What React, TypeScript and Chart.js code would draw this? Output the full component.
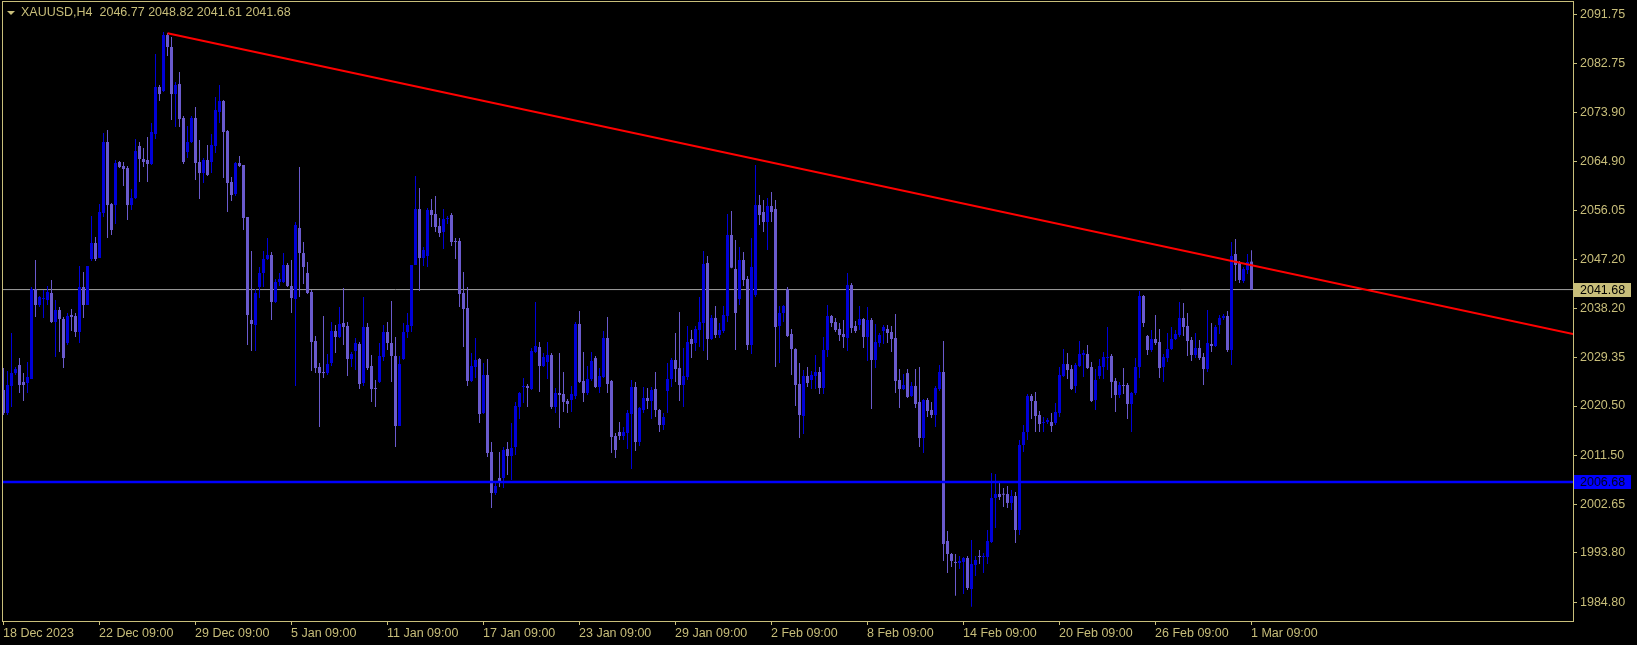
import React, { useEffect, useRef } from 'react';
import { Chart, registerables } from 'chart.js';

Chart.register(...registerables);

const symbolName = 'XAUUSD,H4';

const open = [
2023.42,2019.23,2024.15,2026.50,2027.96,2024.88,2024.69,2025.42,2041.78,2038.88,
2039.97,2039.79,2041.06,2035.79,2037.97,2036.33,2031.97,2037.06,2036.88,2033.97,
2042.15,2038.88,2047.24,2050.15,2047.42,2055.61,2068.53,2057.24,2057.06,2064.89,
2064.16,2063.79,2057.06,2058.33,2067.80,2065.43,2065.25,2064.52,2069.98,2078.53,
2077.80,2087.98,2085.80,2077.25,2079.07,2072.89,2066.71,2068.53,2072.89,2064.89,
2062.88,2065.25,2064.89,2067.80,2073.98,2075.98,2070.53,2061.25,2059.07,2064.70,
2064.34,2054.88,2036.15,2035.24,2042.15,2044.70,2047.24,2047.97,2039.42,2043.06,
2043.06,2046.15,2042.33,2039.97,2052.88,2048.33,2044.70,2041.24,2032.33,2027.60,
2026.69,2026.50,2028.33,2034.15,2033.06,2035.60,2035.06,2029.05,2030.51,2031.78,
2024.69,2034.88,2027.78,2023.78,2024.88,2029.42,2033.97,2031.97,2029.60,2016.87,
2029.05,2033.97,2035.06,2046.15,2056.34,2047.42,2047.79,2056.16,2055.43,2053.24,
2052.15,2054.52,2055.25,2050.52,2050.52,2041.06,2038.33,2025.06,2027.60,2029.05,
2019.23,2026.14,2012.14,2004.68,2007.41,2007.41,2012.69,2011.41,2013.05,2020.33,
2023.96,2024.15,2023.60,2030.33,2031.24,2027.78,2028.51,2029.78,2020.33,2022.87,
2022.69,2021.42,2021.60,2022.33,2035.42,2025.06,2022.87,2025.42,2029.23,2023.96,
2025.78,2032.88,2025.06,2015.05,2015.78,2015.05,2015.60,2019.05,2023.96,2013.96,
2019.78,2021.96,2021.42,2023.60,2019.78,2017.05,2023.24,2025.42,2028.87,2027.41,
2024.33,2025.78,2032.69,2031.97,2034.33,2035.60,2046.52,2032.69,2036.52,2033.42,
2034.15,2036.88,2051.61,2045.43,2039.97,2047.06,2043.61,2031.60,2040.70,2057.06,
2055.79,2053.97,2056.88,2056.34,2035.06,2037.42,2041.78,2033.60,2030.87,2024.51,
2018.69,2025.96,2025.24,2025.96,2026.69,2023.78,2030.69,2036.88,2035.79,2034.51,
2033.60,2032.88,2042.51,2035.06,2035.24,2036.33,2033.06,2036.15,2028.87,2031.97,
2034.15,2034.51,2033.97,2032.88,2025.24,2023.60,2026.50,2022.33,2024.15,2021.24,
2014.69,2021.60,2019.78,2018.87,2023.60,2026.69,1995.95,1993.59,1992.14,1991.95,
1992.14,1992.86,1987.22,1991.59,1993.23,1993.04,1993.04,1995.77,2003.77,2004.50,
2004.50,2004.50,2002.87,2004.14,1997.95,2013.41,2015.78,2022.33,2021.42,2018.87,
2017.42,2017.60,2017.60,2017.42,2019.23,2025.96,2028.14,2027.23,2024.15,2027.78,
2029.78,2029.96,2027.60,2021.60,2025.96,2027.60,2029.23,2029.60,2025.06,2022.51,
2024.33,2024.33,2020.87,2022.87,2027.60,2040.52,2033.24,2030.69,2032.69,2032.15,
2027.60,2029.23,2030.87,2032.69,2033.42,2036.52,2035.06,2032.51,2029.78,2031.06,
2029.42,2027.23,2031.78,2031.42,2035.24,2036.52,2036.88,2030.69,2048.15,2046.52,
2043.24,2045.24,2046.77
];

const high = [
2027.41,2026.87,2033.78,2027.60,2029.23,2026.50,2028.51,2042.15,2047.06,2040.52,
2041.60,2042.33,2043.42,2039.79,2038.51,2036.70,2037.42,2038.15,2037.42,2045.97,
2044.88,2045.97,2055.07,2051.24,2057.24,2070.16,2070.71,2057.43,2065.25,2065.07,
2064.89,2064.16,2059.97,2069.07,2068.53,2067.43,2069.43,2071.98,2084.53,2078.89,
2088.53,2088.35,2087.62,2079.44,2081.26,2073.25,2071.43,2073.25,2074.89,2068.89,
2065.61,2067.98,2069.98,2076.71,2078.89,2076.16,2070.71,2062.16,2064.89,2065.98,
2064.34,2054.88,2048.70,2041.78,2045.79,2048.70,2051.06,2048.52,2043.61,2044.70,
2048.33,2046.52,2047.06,2053.97,2063.97,2050.34,2046.70,2041.60,2033.24,2028.33,
2036.88,2029.96,2035.79,2035.24,2038.51,2041.97,2035.79,2030.33,2032.88,2032.15,
2040.33,2035.60,2029.78,2025.24,2031.97,2035.24,2035.79,2039.60,2033.06,2029.60,
2035.60,2037.42,2046.15,2062.34,2060.16,2049.43,2056.52,2058.15,2058.70,2054.70,
2056.34,2055.07,2055.61,2051.06,2051.06,2044.88,2042.15,2030.15,2032.88,2029.23,
2028.33,2029.05,2013.96,2006.50,2012.14,2013.05,2013.96,2017.42,2021.24,2023.05,
2025.60,2024.51,2031.06,2039.42,2032.15,2030.15,2032.15,2030.15,2023.78,2030.15,
2026.69,2021.78,2024.15,2035.79,2037.79,2030.33,2027.78,2030.33,2029.60,2027.41,
2034.15,2036.70,2025.24,2015.60,2017.60,2016.69,2019.78,2025.24,2024.88,2020.33,
2023.96,2023.78,2023.96,2026.69,2019.96,2019.23,2028.33,2029.23,2033.78,2037.60,
2031.06,2035.06,2034.33,2035.06,2040.33,2048.70,2047.79,2037.06,2038.70,2035.60,
2038.70,2055.43,2055.97,2050.70,2049.43,2048.52,2044.15,2051.06,2064.34,2058.88,
2057.97,2058.33,2059.43,2057.97,2038.70,2038.88,2042.15,2034.51,2031.00,2028.33,
2027.05,2027.60,2026.87,2029.78,2027.60,2033.06,2038.88,2037.06,2036.52,2035.60,
2036.15,2044.70,2042.88,2035.97,2038.70,2036.52,2038.51,2036.52,2035.42,2033.78,
2035.24,2035.24,2035.06,2037.24,2027.23,2026.33,2027.23,2024.88,2027.23,2027.60,
2021.78,2021.96,2021.24,2024.15,2027.96,2032.33,1997.77,1993.77,1993.59,1993.23,
1993.04,1993.23,1996.14,1993.23,1994.32,1993.77,1997.95,2008.32,2008.14,2006.50,
2005.59,2005.96,2005.23,2004.87,2014.32,2017.05,2022.69,2022.69,2023.05,2019.60,
2018.51,2018.32,2019.23,2021.05,2027.60,2030.87,2030.15,2027.96,2028.33,2032.33,
2030.69,2031.60,2028.51,2027.23,2029.05,2030.33,2034.88,2029.96,2025.60,2024.88,
2027.41,2024.69,2023.05,2029.23,2041.42,2040.70,2033.42,2034.33,2037.06,2034.51,
2029.96,2033.78,2034.88,2034.33,2039.42,2039.24,2037.42,2033.06,2033.78,2032.51,
2030.15,2037.97,2035.60,2035.24,2037.06,2037.24,2037.79,2050.34,2050.88,2046.88,
2045.79,2048.15,2048.82
];

const low = [
2018.87,2018.87,2020.33,2026.14,2022.87,2021.42,2022.87,2025.42,2036.70,2038.51,
2036.52,2038.88,2035.60,2029.42,2030.33,2027.41,2031.60,2034.15,2033.06,2031.97,
2036.52,2038.88,2046.88,2046.88,2047.42,2054.88,2051.06,2051.61,2053.61,2063.79,
2060.52,2054.34,2056.16,2058.15,2061.25,2063.97,2061.25,2064.34,2069.07,2075.98,
2077.62,2084.17,2072.52,2071.25,2071.25,2064.52,2065.61,2068.34,2061.61,2058.15,
2061.07,2062.34,2062.88,2066.52,2071.98,2061.98,2055.79,2057.79,2058.70,2063.97,
2052.52,2031.60,2030.51,2030.51,2040.15,2042.15,2047.06,2036.15,2039.24,2042.33,
2042.88,2042.15,2037.42,2024.15,2040.33,2042.70,2040.88,2026.87,2026.50,2016.69,
2025.60,2026.14,2027.78,2030.15,2032.88,2031.60,2025.96,2027.60,2027.05,2023.60,
2024.15,2027.05,2021.24,2020.33,2024.69,2028.69,2030.69,2024.88,2013.05,2016.87,
2028.87,2032.88,2033.97,2046.15,2041.42,2045.97,2045.79,2053.06,2052.15,2051.24,
2049.06,2053.61,2049.61,2047.24,2038.51,2031.24,2024.15,2024.88,2025.60,2017.41,
2019.05,2011.23,2001.95,2004.32,2005.78,2005.59,2007.96,2007.05,2011.59,2018.14,
2021.05,2020.33,2023.42,2030.15,2023.05,2027.60,2025.42,2019.96,2019.23,2016.50,
2019.42,2019.23,2019.42,2021.78,2024.69,2021.24,2022.51,2025.06,2023.78,2022.87,
2025.60,2022.87,2011.96,2011.05,2014.32,2014.32,2012.69,2009.05,2012.32,2013.23,
2019.23,2019.96,2018.14,2018.51,2015.78,2016.14,2019.23,2023.96,2024.88,2021.42,
2020.33,2025.24,2029.23,2030.51,2031.24,2030.51,2028.87,2032.51,2032.88,2032.88,
2033.78,2035.79,2045.55,2030.69,2038.88,2042.33,2030.69,2029.96,2040.33,2053.43,
2052.15,2048.88,2053.97,2027.60,2028.33,2035.79,2033.06,2026.14,2020.51,2014.69,
2015.41,2023.96,2023.60,2023.60,2022.69,2022.69,2029.42,2034.88,2033.97,2032.33,
2031.06,2030.51,2033.78,2033.78,2034.33,2031.06,2028.69,2019.96,2027.41,2031.24,
2031.78,2031.97,2030.33,2022.87,2020.15,2023.42,2021.96,2022.14,2020.15,2013.05,
2011.96,2018.51,2018.32,2016.69,2023.24,1992.32,1990.13,1991.23,1986.00,1990.86,
1986.30,1987.04,1984.00,1989.59,1991.77,1990.13,1991.77,1995.59,1998.32,2003.41,
2002.14,2001.95,2001.59,1995.59,1997.04,2012.14,2014.32,2018.14,2015.78,2015.78,
2015.78,2017.23,2015.78,2017.05,2018.51,2025.78,2025.42,2023.42,2022.87,2027.60,
2025.78,2027.23,2021.24,2019.78,2025.42,2025.42,2027.05,2021.96,2019.42,2021.96,
2022.69,2018.14,2015.78,2022.51,2025.60,2034.88,2029.78,2030.33,2031.60,2025.60,
2024.88,2028.51,2030.69,2032.51,2033.06,2033.24,2029.60,2028.69,2029.23,2028.87,
2024.33,2026.69,2030.33,2031.24,2033.60,2036.15,2030.33,2027.96,2043.24,2042.88,
2042.88,2044.52,2041.61
];

const close = [
2019.23,2024.33,2026.50,2027.23,2024.33,2024.33,2025.78,2041.78,2038.88,2040.33,
2040.15,2041.24,2035.79,2037.97,2036.33,2029.23,2036.88,2036.70,2033.97,2042.15,
2038.88,2045.97,2050.15,2047.24,2055.79,2068.53,2057.06,2052.52,2064.70,2063.97,
2063.61,2057.06,2058.33,2066.89,2065.43,2064.89,2064.52,2070.34,2078.53,2077.25,
2087.98,2085.80,2077.25,2078.89,2072.70,2064.89,2068.53,2072.89,2064.70,2062.88,
2065.25,2062.52,2067.98,2074.34,2075.98,2070.34,2061.07,2058.88,2064.70,2064.16,
2054.70,2037.06,2035.42,2041.06,2044.70,2047.24,2047.97,2039.42,2043.06,2043.61,
2046.15,2042.33,2040.15,2053.43,2048.33,2045.79,2041.06,2032.15,2027.41,2026.50,
2026.50,2028.14,2034.15,2033.06,2035.42,2034.88,2029.05,2029.96,2031.97,2024.51,
2034.88,2027.41,2023.60,2023.60,2029.60,2033.97,2031.97,2029.60,2016.87,2028.14,
2033.97,2035.24,2046.15,2056.34,2047.42,2048.88,2056.16,2055.25,2053.06,2051.97,
2054.52,2054.70,2050.34,2050.34,2040.88,2038.15,2025.06,2027.78,2028.87,2019.05,
2026.14,2011.96,2004.68,2005.96,2006.68,2012.50,2011.41,2012.87,2020.51,2022.87,
2024.15,2023.78,2030.51,2031.42,2027.78,2029.42,2029.78,2020.33,2022.87,2022.51,
2021.24,2020.87,2022.69,2035.42,2024.88,2022.87,2025.42,2028.69,2023.96,2025.96,
2032.88,2024.51,2014.87,2012.50,2015.05,2015.78,2019.23,2023.96,2013.96,2020.15,
2021.96,2021.42,2023.42,2019.78,2017.05,2018.51,2025.42,2028.87,2027.23,2024.33,
2025.96,2032.15,2031.78,2034.51,2035.79,2046.33,2032.69,2036.52,2033.42,2034.33,
2037.06,2051.61,2045.66,2037.42,2047.06,2043.42,2031.60,2045.79,2057.06,2055.25,
2053.97,2056.88,2055.79,2034.88,2037.42,2038.70,2033.24,2030.87,2024.33,2018.87,
2025.96,2024.69,2026.14,2026.69,2023.78,2030.69,2036.88,2035.60,2034.33,2033.42,
2033.06,2042.51,2034.69,2034.15,2036.33,2033.06,2036.15,2028.87,2032.15,2033.42,
2034.88,2033.78,2032.69,2025.06,2023.60,2024.33,2022.14,2024.15,2020.87,2014.69,
2021.60,2019.60,2018.87,2023.78,2026.69,1995.41,1993.59,1992.32,1991.95,1992.32,
1992.86,1987.40,1991.77,1992.50,1993.04,1993.23,1995.95,2003.77,2004.50,2003.95,
2004.41,2002.87,2004.14,1997.95,2013.41,2015.78,2022.33,2021.42,2018.69,2017.23,
2017.60,2017.96,2016.87,2019.42,2026.14,2028.14,2027.05,2023.60,2027.96,2029.96,
2030.15,2027.41,2021.42,2025.24,2027.78,2029.42,2029.42,2024.88,2022.51,2024.33,
2024.15,2020.87,2022.87,2027.60,2040.52,2035.60,2030.69,2032.69,2031.97,2027.41,
2029.42,2030.87,2032.69,2033.60,2036.52,2034.88,2032.33,2029.78,2031.06,2029.23,
2027.23,2031.97,2031.42,2034.88,2036.52,2036.88,2030.69,2047.79,2046.15,2043.42,
2045.43,2046.70,2041.68
];

const yTickValues = [2091.75, 2082.75, 2073.90, 2064.90, 2056.05, 2047.20, 2038.20, 2029.35, 2020.50, 2011.50, 2002.65, 1993.80, 1984.80];
const xTickLabels = ['18 Dec 2023', '22 Dec 09:00', '29 Dec 09:00', '5 Jan 09:00', '11 Jan 09:00', '17 Jan 09:00', '23 Jan 09:00', '29 Jan 09:00', '2 Feb 09:00', '8 Feb 09:00', '14 Feb 09:00', '20 Feb 09:00', '26 Feb 09:00', '1 Mar 09:00'];
const xTickBars = [-0.125, 23.875, 47.875, 71.875, 95.875, 119.875, 143.875, 167.875, 191.875, 215.875, 239.875, 263.875, 287.875, 311.875];

const bidPrice = 2041.68;
const supportPrice = 2006.68;
const trendBars = [41, 392.375];
const trendPrices = [2088.3, 2033.6];

const X_MIN = -0.125;
const X_MAX = 392.375;
const Y_MIN = 1981.40;
const Y_MAX = 2093.99;

const KHAKI = '#C8BE7A';
const BULL = '#0000D8';
const BEAR = '#6A5ACD';
const FONT = "'Liberation Sans', Arial, sans-serif";

export default function App() {
  const ref = useRef<HTMLCanvasElement | null>(null);

  useEffect(() => {
    document.body.style.margin = '0';
    document.body.style.background = '#000';
    const canvas = ref.current;
    if (!canvas) return;

    const bodies = open.map((o, i) => {
      const c = close[i];
      let lo = Math.min(o, c);
      let hi = Math.max(o, c);
      if (hi - lo < 0.18) {
        const m = (hi + lo) / 2;
        lo = m - 0.09;
        hi = m + 0.09;
      }
      return { x: i, y: [lo, hi] };
    });
    const wicks = open.map((o, i) => ({
      x: i,
      y: [Math.min(low[i], o, close[i]), Math.max(high[i], o, close[i])],
    }));
    const colors = open.map((o, i) => (close[i] >= o ? BULL : BEAR));

    const overlay = {
      id: 'mtOverlay',
      afterDraw(chart: any) {
        const { ctx, chartArea, scales } = chart;
        const ys = scales.y;
        ctx.save();
        ctx.strokeStyle = KHAKI;
        ctx.lineWidth = 1;
        ctx.strokeRect(chartArea.left - 0.5, chartArea.top - 0.5, chartArea.right - chartArea.left + 1, chartArea.bottom - chartArea.top + 1);
        const tags = [
          { v: bidPrice, bg: KHAKI, fg: '#000000' },
          { v: supportPrice, bg: '#0000FF', fg: '#000020' },
        ];
        ctx.font = `12.5px ${FONT}`;
        ctx.textBaseline = 'middle';
        ctx.textAlign = 'left';
        for (const t of tags) {
          const py = ys.getPixelForValue(t.v);
          ctx.fillStyle = t.bg;
          ctx.fillRect(chartArea.right + 1, Math.round(py) - 7, 57, 14);
          ctx.fillStyle = t.fg;
          ctx.fillText(t.v.toFixed(2), chartArea.right + 7, py + 0.5);
        }
        const last = open.length - 1;
        ctx.fillStyle = KHAKI;
        ctx.beginPath();
        ctx.moveTo(7, 11);
        ctx.lineTo(15, 11);
        ctx.lineTo(11, 15);
        ctx.closePath();
        ctx.fill();
        const title = `${symbolName}  ${open[last].toFixed(2)} ${high[last].toFixed(2)} ${low[last].toFixed(2)} ${close[last].toFixed(2)}`;
        ctx.fillText(title, 21, 13);
        ctx.restore();
      },
    };

    const chart = new Chart(canvas, {
      type: 'bar',
      data: {
        datasets: [
          {
            type: 'line',
            label: 'trend',
            data: trendBars.map((b, k) => ({ x: b, y: trendPrices[k] })),
            borderColor: '#FF0000',
            borderWidth: 2,
            pointRadius: 0,
            order: 0,
          } as any,
          {
            type: 'line',
            label: 'support',
            data: [{ x: X_MIN, y: supportPrice }, { x: X_MAX, y: supportPrice }],
            borderColor: '#0000FF',
            borderWidth: 2.5,
            pointRadius: 0,
            order: 0,
          } as any,
          {
            type: 'bar',
            label: 'body',
            data: bodies as any,
            backgroundColor: colors,
            borderWidth: 0,
            barThickness: 3,
            grouped: false,
            inflateAmount: 0,
            order: 1,
          } as any,
          {
            type: 'bar',
            label: 'wick',
            data: wicks as any,
            backgroundColor: colors,
            borderWidth: 0,
            barThickness: 1,
            grouped: false,
            inflateAmount: 0,
            order: 2,
          } as any,
          {
            type: 'line',
            label: 'bid',
            data: [{ x: X_MIN, y: bidPrice }, { x: X_MAX, y: bidPrice }],
            borderColor: '#A0A0A0',
            borderWidth: 1,
            pointRadius: 0,
            order: 3,
          } as any,
        ],
      },
      options: {
        animation: false,
        responsive: false,
        maintainAspectRatio: false,
        devicePixelRatio: 1,
        layout: { padding: { left: 3, top: 2, right: 0, bottom: 0 } },
        plugins: { legend: { display: false }, tooltip: { enabled: false }, title: { display: false } },
        scales: {
          x: {
            type: 'linear',
            position: 'bottom',
            min: X_MIN,
            max: X_MAX,
            bounds: 'data',
            offset: false,
            grid: { display: true, offset: false, drawOnChartArea: false, drawTicks: true, tickLength: 4, color: KHAKI },
            border: { display: false },
            ticks: {
              autoSkip: false,
              maxRotation: 0,
              minRotation: 0,
              align: 'start',
              padding: 1,
              color: KHAKI,
              font: { family: FONT, size: 12.5 },
              callback: (_v: any, idx: number) => xTickLabels[idx],
            },
            afterBuildTicks: (s: any) => {
              s.ticks = xTickBars.map((v) => ({ value: v }));
            },
            afterFit: (s: any) => {
              s.height = 24;
              s.paddingLeft = 0;
              s.paddingRight = 0;
            },
          } as any,
          y: {
            type: 'linear',
            position: 'right',
            min: Y_MIN,
            max: Y_MAX,
            bounds: 'data',
            grid: { display: true, drawOnChartArea: false, drawTicks: true, tickLength: 4, color: KHAKI },
            border: { display: false },
            ticks: {
              autoSkip: false,
              padding: 3,
              color: KHAKI,
              font: { family: FONT, size: 12.5 },
              callback: (v: any) => Number(v).toFixed(2),
            },
            afterBuildTicks: (s: any) => {
              s.ticks = yTickValues.map((v) => ({ value: v }));
            },
            afterFit: (s: any) => {
              s.width = 64;
              s.paddingTop = 0;
              s.paddingBottom = 0;
            },
          } as any,
        },
      },
      plugins: [overlay],
    });

    return () => chart.destroy();
  }, []);

  return (
    <div style={{ width: 1637, height: 645, background: '#000' }}>
      <canvas ref={ref} width={1637} height={645} style={{ display: 'block', width: 1637, height: 645 }} />
    </div>
  );
}
